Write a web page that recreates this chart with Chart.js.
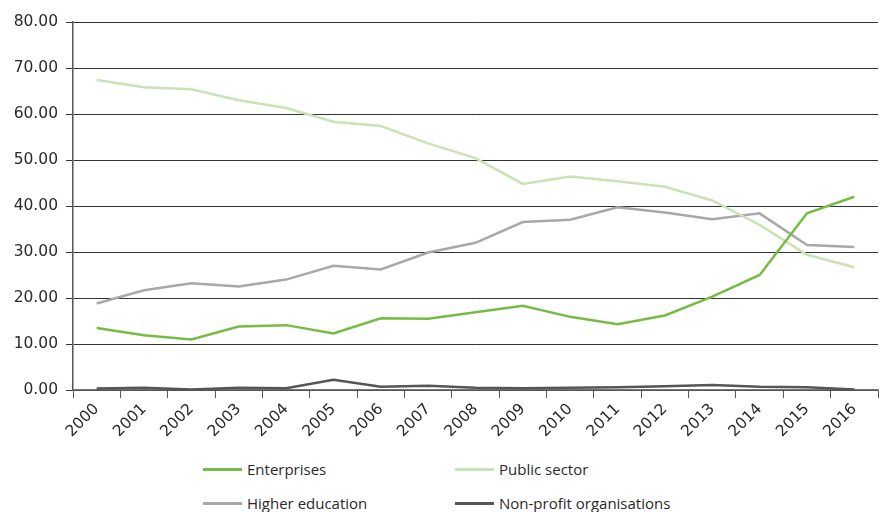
<!DOCTYPE html>
<html>
<head>
<meta charset="utf-8">
<script src="https://cdn.jsdelivr.net/npm/chart.js@4"></script>
<style>
    body { margin: 0; background: #fff; font-family: "Open Sans", sans-serif; }
    #wrap { position: relative; width: 882px; height: 512px; }
    #chartBox { position: absolute; left: 0; top: 0; width: 882px; height: 452px; }
    #legend { position: absolute; left: 203px; top: 458px; display: grid; grid-template-columns: 252px 300px; row-gap: 12px; }
    .item { display: flex; align-items: center; font-size: 15px; color: #2a2a2a; height: 22px; }
    .swatch { width: 39px; height: 3px; margin-right: 5px; }
</style>
</head>
<body>
<div id="wrap">
    <div id="chartBox"><canvas id="chart"></canvas></div>
    <div id="legend"></div>
</div>
<script>
const years = ["2000", "2001", "2002", "2003", "2004", "2005", "2006", "2007", "2008",
    "2009", "2010", "2011", "2012", "2013", "2014", "2015", "2016"];
const enterprises = [13.5, 11.9, 11.0, 13.8, 14.1, 12.3, 15.6, 15.5, 16.9, 18.3, 15.9, 14.3, 16.2, 20.3, 25.0, 38.4, 42.0];
const publicSector = [67.4, 65.8, 65.4, 63.0, 61.3, 58.3, 57.4, 53.6, 50.4, 44.8, 46.4, 45.4, 44.2, 41.2, 35.9, 29.4, 26.7];
const higherEducation = [18.8, 21.7, 23.2, 22.5, 24.0, 27.0, 26.2, 29.9, 32.0, 36.5, 37.0, 39.7, 38.6, 37.1, 38.4, 31.5, 31.1];
const nonProfit = [0.3, 0.5, 0.1, 0.5, 0.4, 2.2, 0.7, 0.9, 0.5, 0.4, 0.5, 0.6, 0.8, 1.1, 0.7, 0.6, 0.1];
const yTicks = [0, 10, 20, 30, 40, 50, 60, 70, 80];

const series = [
    { label: "Enterprises", data: enterprises, color: "#76bc43" },
    { label: "Public sector", data: publicSector, color: "#c8e3b4" },
    { label: "Higher education", data: higherEducation, color: "#a8a8a8" },
    { label: "Non-profit organisations", data: nonProfit, color: "#555555" }
];

// legend in two columns below the chart
const legend = document.getElementById("legend");
series.forEach(s => {
    const div = document.createElement("div");
    div.className = "item";
    div.innerHTML = `<span class="swatch" style="background:${s.color}"></span>${s.label}`;
    legend.appendChild(div);
});

Chart.defaults.font.family = "DejaVu Sans";
Chart.defaults.color = "#2a2a2a";

new Chart(document.getElementById("chart"), {
    type: "line",
    data: {
        labels: years,
        datasets: series.map(s => ({
            label: s.label,
            data: s.data,
            borderColor: s.color,
            backgroundColor: s.color,
            borderWidth: 2.5,
            pointRadius: 0,
            tension: 0
        }))
    },
    options: {
        responsive: true,
        maintainAspectRatio: false,
        animation: false,
        layout: { padding: { top: 22, right: 4 } },
        plugins: { legend: { display: false }, tooltip: { enabled: false } },
        scales: {
            x: {
                offset: true,
                grid: { display: true, drawOnChartArea: false, offset: true, tickLength: 8, color: "#555" },
                border: { color: "#777", width: 1.5 },
                ticks: { minRotation: 45, maxRotation: 45, font: { size: 15.5 }, padding: 2 },
                afterFit: s => { s.height = 62; }
            },
            y: {
                min: 0,
                max: 80,
                afterBuildTicks: s => { s.ticks = yTicks.map(v => ({ value: v })); },
                grid: { color: "#333", tickLength: 7, lineWidth: 1 },
                border: { color: "#555", width: 1.5 },
                ticks: { font: { size: 15.5 }, padding: 8, callback: v => v.toFixed(2) },
                afterFit: s => { s.width = 73; }
            }
        }
    }
});
</script>
</body>
</html>
